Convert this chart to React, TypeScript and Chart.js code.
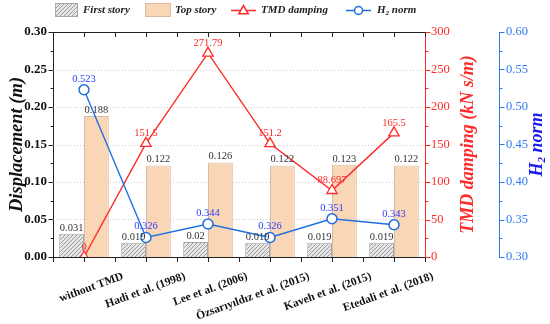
import React, { useEffect, useRef } from 'react';
import { Chart, registerables } from 'chart.js';

Chart.register(...registerables);

const categories = [
  'without TMD',
  'Hadi et al. (1998)',
  'Lee et al. (2006)',
  'Özsarıyıldız et al. (2015)',
  'Kaveh et al. (2015)',
  'Etedali et al. (2018)',
];
const firstStory = [0.031, 0.019, 0.02, 0.019, 0.019, 0.019];
const topStory = [0.188, 0.122, 0.126, 0.122, 0.123, 0.122];
const tmdDamping = [0, 151.5, 271.79, 151.2, 88.697, 165.5];
const h2Norm = [0.523, 0.326, 0.344, 0.326, 0.351, 0.343];

const dispTicks = [0, 0.05, 0.1, 0.15, 0.2, 0.25, 0.3];
const dampTicks = [0, 50, 100, 150, 200, 250, 300];
const normTicks = [0.3, 0.35, 0.4, 0.45, 0.5, 0.55, 0.6];

const SERIF = "'Liberation Serif', 'Times New Roman', serif";
const RED = '#ff2a2a';
const BLUE_AXIS = '#2f7cf0';
const BLUE_LINE = '#1f6fe0';
const BLUE_TEXT = '#2b3bff';
const PEACH = '#f9d6b6';
const PEACH_BORDER = '#d6bca6';
const GRAY_BORDER = '#a8a8a8';

function makeHatch(): CanvasPattern | string {
  const c = document.createElement('canvas');
  c.width = 4;
  c.height = 4;
  const g = c.getContext('2d');
  if (!g) return '#ddd';
  g.fillStyle = '#e6e6e6';
  g.fillRect(0, 0, 4, 4);
  g.strokeStyle = '#8a8a8a';
  g.lineWidth = 0.8;
  g.beginPath();
  g.moveTo(0, 4);
  g.lineTo(4, 0);
  g.moveTo(-1, 1);
  g.lineTo(1, -1);
  g.moveTo(3, 5);
  g.lineTo(5, 3);
  g.stroke();
  const p = g.createPattern(c, 'repeat');
  return p || '#ddd';
}

function drawSubText(ctx: CanvasRenderingContext2D, x: number, y: number, size: number, weightStyle: string, align: 'left' | 'center', color: string) {
  ctx.fillStyle = color;
  ctx.textBaseline = 'middle';
  ctx.textAlign = 'left';
  const big = `${weightStyle} ${size}px ${SERIF}`;
  const small = `${weightStyle} ${Math.round(size * 0.62)}px ${SERIF}`;
  ctx.font = big;
  const wH = ctx.measureText('H').width;
  const wN = ctx.measureText(' norm').width;
  ctx.font = small;
  const w2 = ctx.measureText('2').width;
  const total = wH + w2 + wN;
  let sx = align === 'center' ? x - total / 2 : x;
  ctx.font = big;
  ctx.fillText('H', sx, y);
  sx += wH;
  ctx.font = small;
  ctx.fillText('2', sx, y + size * 0.28);
  sx += w2;
  ctx.font = big;
  ctx.fillText(' norm', sx, y);
}

function drawTriangle(ctx: CanvasRenderingContext2D, x: number, y: number, r: number) {
  ctx.beginPath();
  for (let i = 0; i < 3; i++) {
    const ang = (i * 2 * Math.PI) / 3;
    const px = x + Math.sin(ang) * r;
    const py = y - Math.cos(ang) * r;
    if (i === 0) ctx.moveTo(px, py);
    else ctx.lineTo(px, py);
  }
  ctx.closePath();
}

export default function App() {
  const ref = useRef<HTMLCanvasElement | null>(null);

  useEffect(() => {
    if (!ref.current) return;
    const hatch = makeHatch();

    const decor = {
      id: 'decor',
      beforeDatasetsDraw(chart: any) {
        const { ctx, chartArea: a, scales } = chart;
        ctx.save();
        ctx.strokeStyle = '#cfcfcf';
        ctx.lineWidth = 1;
        ctx.setLineDash([1, 2]);
        dispTicks.forEach((v) => {
          if (v === 0 || v === 0.3) return;
          const y = Math.round(scales.y.getPixelForValue(v)) + 0.5;
          ctx.beginPath();
          ctx.moveTo(a.left, y);
          ctx.lineTo(a.right, y);
          ctx.stroke();
        });
        ctx.restore();
      },
      afterDatasetsDraw(chart: any) {
        const { ctx } = chart;
        ctx.save();
        ctx.textAlign = 'center';
        ctx.textBaseline = 'middle';
        ctx.font = `10.5px ${SERIF}`;
        [0, 1].forEach((di) => {
          const meta = chart.getDatasetMeta(di);
          const data = chart.data.datasets[di].data as number[];
          meta.data.forEach((el: any, i: number) => {
            ctx.fillStyle = '#333';
            ctx.fillText(String(data[i]), el.x, el.y - 6);
          });
        });
        const m2 = chart.getDatasetMeta(2);
        m2.data.forEach((el: any, i: number) => {
          ctx.fillStyle = RED;
          ctx.fillText(String(tmdDamping[i]), el.x, el.y - 10);
        });
        const m3 = chart.getDatasetMeta(3);
        m3.data.forEach((el: any, i: number) => {
          ctx.fillStyle = BLUE_TEXT;
          ctx.fillText(String(h2Norm[i]), el.x, el.y - 11);
        });
        ctx.restore();
      },
      afterDraw(chart: any) {
        const { ctx, chartArea: a, scales } = chart;
        const xs = scales.x;
        ctx.save();
        ctx.lineWidth = 1;
        ctx.strokeStyle = '#222';
        ctx.beginPath();
        ctx.moveTo(a.left, a.top + 0.5);
        ctx.lineTo(a.right, a.top + 0.5);
        ctx.stroke();
        const n = categories.length;
        const step = (a.right - a.left) / n;
        for (let k = 0; k <= 2 * n; k++) {
          const x = Math.round(a.left + (k * step) / 2) + 0.5;
          ctx.beginPath();
          ctx.moveTo(x, a.top);
          ctx.lineTo(x, a.top + 5);
          ctx.moveTo(x, a.bottom);
          ctx.lineTo(x, a.bottom + 5);
          ctx.stroke();
        }
        const axisTicks = (scale: any, vals: number[], minorStep: number, x: number, dir: number, color: string) => {
          ctx.strokeStyle = color;
          ctx.beginPath();
          vals.forEach((v, idx) => {
            const y = Math.round(scale.getPixelForValue(v)) + 0.5;
            ctx.moveTo(x, y);
            ctx.lineTo(x + dir * 5, y);
            if (idx < vals.length - 1) {
              const ym = Math.round(scale.getPixelForValue(v + minorStep)) + 0.5;
              ctx.moveTo(x, ym);
              ctx.lineTo(x + dir * 3, ym);
            }
          });
          ctx.stroke();
        };
        axisTicks(scales.y, dispTicks, 0.025, a.left + 0.5, -1, '#222');
        axisTicks(scales.yR, dampTicks, 25, Math.round(scales.yR.left) + 0.5, 1, RED);
        axisTicks(scales.yB, normTicks, 0.025, Math.round(scales.yB.left) + 0.5, 1, BLUE_AXIS);

        ctx.font = `bold 11.5px ${SERIF}`;
        ctx.fillStyle = '#111';
        ctx.textAlign = 'right';
        ctx.textBaseline = 'middle';
        categories.forEach((c, i) => {
          const x = xs.getPixelForValue(i);
          ctx.save();
          ctx.translate(x + 39, a.bottom + 19);
          ctx.rotate((-20 * Math.PI) / 180);
          ctx.fillText(c, 0, 0);
          ctx.restore();
        });

        const midY = (a.top + a.bottom) / 2;
        ctx.save();
        ctx.translate(17, midY);
        ctx.rotate(-Math.PI / 2);
        ctx.font = `italic bold 18.5px ${SERIF}`;
        ctx.fillStyle = '#111';
        ctx.textAlign = 'center';
        ctx.textBaseline = 'middle';
        ctx.fillText('Displacement (m)', 0, 0);
        ctx.restore();
        ctx.save();
        ctx.translate(468, midY);
        ctx.rotate(-Math.PI / 2);
        ctx.font = `italic bold 18px ${SERIF}`;
        ctx.fillStyle = RED;
        ctx.textAlign = 'center';
        ctx.textBaseline = 'middle';
        ctx.fillText('TMD damping (kN s/m)', 0, 0);
        ctx.restore();
        ctx.save();
        ctx.translate(537, midY);
        ctx.rotate(-Math.PI / 2);
        drawSubText(ctx, 0, 0, 18, 'italic bold', 'center', '#1a1aee');
        ctx.restore();

        const ly = 10;
        ctx.font = `italic bold 11px ${SERIF}`;
        ctx.textAlign = 'left';
        ctx.textBaseline = 'middle';
        ctx.fillStyle = hatch as any;
        ctx.fillRect(55, 3, 22, 13);
        ctx.strokeStyle = GRAY_BORDER;
        ctx.strokeRect(55.5, 3.5, 22, 13);
        ctx.fillStyle = '#222';
        ctx.fillText('First story', 83, ly);
        ctx.fillStyle = PEACH;
        ctx.fillRect(145, 3, 25, 13);
        ctx.strokeStyle = PEACH_BORDER;
        ctx.strokeRect(145.5, 3.5, 25, 13);
        ctx.fillStyle = '#222';
        ctx.fillText('Top story', 175, ly);
        ctx.strokeStyle = RED;
        ctx.lineWidth = 1.5;
        ctx.beginPath();
        ctx.moveTo(231, ly + 0.5);
        ctx.lineTo(256, ly + 0.5);
        ctx.stroke();
        drawTriangle(ctx, 243.5, ly + 1, 5.5);
        ctx.fillStyle = '#fff';
        ctx.fill();
        ctx.stroke();
        ctx.fillStyle = '#222';
        ctx.fillText('TMD damping', 261, ly);
        ctx.strokeStyle = BLUE_LINE;
        ctx.beginPath();
        ctx.moveTo(346, ly + 0.5);
        ctx.lineTo(371, ly + 0.5);
        ctx.stroke();
        ctx.beginPath();
        ctx.arc(358.5, ly + 0.5, 4, 0, Math.PI * 2);
        ctx.fillStyle = '#fff';
        ctx.fill();
        ctx.stroke();
        drawSubText(ctx, 377, ly, 11, 'italic bold', 'left', '#222');
        ctx.restore();
      },
    };

    const chart = new Chart(ref.current, {
      type: 'bar',
      data: {
        labels: categories,
        datasets: [
          {
            type: 'bar',
            label: 'First story',
            data: firstStory,
            yAxisID: 'y',
            backgroundColor: hatch as any,
            borderColor: GRAY_BORDER,
            borderWidth: 1,
            categoryPercentage: 0.8,
            barPercentage: 1.0,
            order: 2,
          },
          {
            type: 'bar',
            label: 'Top story',
            data: topStory,
            yAxisID: 'y',
            backgroundColor: PEACH,
            borderColor: PEACH_BORDER,
            borderWidth: 1,
            categoryPercentage: 0.8,
            barPercentage: 1.0,
            order: 2,
          },
          {
            type: 'line',
            label: 'TMD damping',
            data: tmdDamping,
            yAxisID: 'yR',
            borderColor: RED,
            borderWidth: 1.4,
            pointStyle: 'triangle',
            pointRadius: 6,
            pointBackgroundColor: '#ffffff',
            pointBorderColor: RED,
            pointBorderWidth: 1.3,
            tension: 0,
            order: 1,
          } as any,
          {
            type: 'line',
            label: 'H2 norm',
            data: h2Norm,
            yAxisID: 'yB',
            borderColor: BLUE_LINE,
            borderWidth: 1.4,
            pointStyle: 'circle',
            pointRadius: 5,
            pointBackgroundColor: '#ffffff',
            pointBorderColor: BLUE_LINE,
            pointBorderWidth: 1.5,
            tension: 0,
            order: 0,
          } as any,
        ],
      },
      options: {
        animation: false,
        responsive: true,
        maintainAspectRatio: false,
        layout: { padding: { top: 32, left: 0, right: 0, bottom: 0 } },
        plugins: {
          legend: { display: false },
          tooltip: { enabled: false },
        },
        scales: {
          x: {
            type: 'category',
            offset: true,
            grid: { display: false, drawTicks: false },
            border: { display: true, color: '#222', width: 1 },
            ticks: { display: false },
            afterFit: (s: any) => {
              s.height = 67;
            },
          },
          y: {
            position: 'left',
            min: 0,
            max: 0.3,
            grid: { display: false, drawTicks: false },
            border: { display: true, color: '#222', width: 1 },
            ticks: {
              stepSize: 0.05,
              padding: 6,
              color: '#111',
              font: { family: SERIF, size: 13, weight: 'bold' },
              callback: (v: any) => Number(v).toFixed(2),
            },
            afterFit: (s: any) => {
              s.width = 53;
            },
          },
          yR: {
            position: 'right',
            min: 0,
            max: 300,
            grid: { display: false, drawTicks: false, drawOnChartArea: false },
            border: { display: true, color: RED, width: 1 },
            ticks: {
              stepSize: 50,
              padding: 6,
              color: RED,
              font: { family: SERIF, size: 12.5 },
            },
            afterFit: (s: any) => {
              s.width = 74;
            },
          },
          yB: {
            position: 'right',
            min: 0.3,
            max: 0.6,
            grid: { display: false, drawTicks: false, drawOnChartArea: false },
            border: { display: true, color: BLUE_AXIS, width: 1 },
            ticks: {
              stepSize: 0.05,
              padding: 7,
              color: BLUE_AXIS,
              font: { family: SERIF, size: 12.5 },
              callback: (v: any) => Number(v).toFixed(2),
            },
            afterFit: (s: any) => {
              s.width = 51;
            },
          },
        },
      } as any,
      plugins: [decor],
    });
    return () => chart.destroy();
  }, []);

  return (
    <div style={{ position: 'fixed', left: 0, top: 0, width: 550, height: 324, background: '#fff' }}>
      <canvas ref={ref} />
    </div>
  );
}
